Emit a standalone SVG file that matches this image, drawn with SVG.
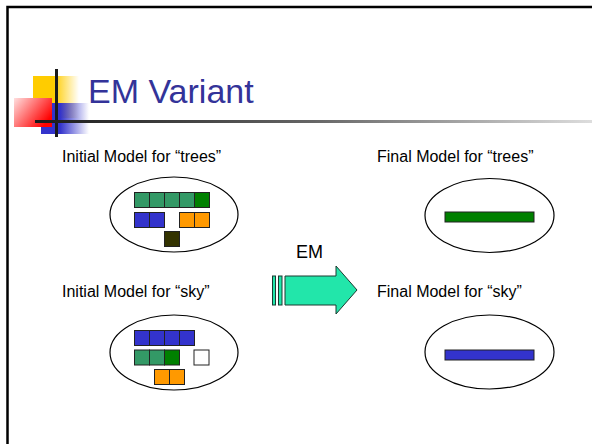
<svg xmlns="http://www.w3.org/2000/svg" width="592" height="444" viewBox="0 0 592 444">
  <defs>
    <linearGradient id="gYellow" x1="0" y1="0" x2="1" y2="0">
      <stop offset="0" stop-color="#FFCC00"/>
      <stop offset="0.45" stop-color="#FFCC00"/>
      <stop offset="1" stop-color="#FFCC00" stop-opacity="0"/>
    </linearGradient>
    <linearGradient id="gBlue" x1="0" y1="0" x2="1" y2="0">
      <stop offset="0" stop-color="#3333CC"/>
      <stop offset="0.4" stop-color="#3333CC"/>
      <stop offset="1" stop-color="#3333CC" stop-opacity="0"/>
    </linearGradient>
    <linearGradient id="gRed" x1="0" y1="0" x2="1" y2="0.6">
      <stop offset="0" stop-color="#FFE0E0"/>
      <stop offset="1" stop-color="#FF0000"/>
    </linearGradient>
    <linearGradient id="gRule" x1="0" y1="0" x2="1" y2="0">
      <stop offset="0" stop-color="#1a1a1a"/>
      <stop offset="0.5" stop-color="#666666"/>
      <stop offset="1" stop-color="#dddddd"/>
    </linearGradient>
    <style>
      .lbl { font-family: "Liberation Sans", Arial, sans-serif; font-size: 16px; fill: #000; }
      .oval { fill: #fff; stroke: #000; stroke-width: 1.2; }
      .c { stroke: #222; stroke-width: 1; }
      .sg { fill: #339966; }
      .dg { fill: #008000; }
      .bl { fill: #3333CC; }
      .or { fill: #FF9900; }
      .dk { fill: #333300; }
      .wh { fill: #fff; }
    </style>
  </defs>

  <rect width="592" height="444" fill="#fff"/>

  <!-- slide frame -->
  <path d="M7.5 444 V7 H592" fill="none" stroke="#000" stroke-width="2.5"/>

  <!-- title bullet ornament -->
  <g id="ornament">
    <rect x="33" y="76" width="46" height="42" fill="url(#gYellow)"/>
    <rect x="41" y="103" width="48" height="31" fill="url(#gBlue)"/>
    <rect x="14" y="98" width="38" height="29" fill="url(#gRed)"/>
    <rect x="55" y="69" width="3" height="68" fill="#1a1a1a"/>
    <rect x="35" y="120" width="557" height="3" fill="url(#gRule)"/>
  </g>

  <text id="title" x="88" y="103" font-family="'Liberation Sans', Arial, sans-serif" font-size="34" fill="#333399">EM Variant</text>

  <!-- initial model: trees -->
  <g id="init-trees">
    <text class="lbl" x="62" y="162">Initial Model for “trees”</text>
    <ellipse class="oval" cx="174" cy="214.5" rx="64" ry="37.5"/>
    <rect class="c sg" x="134.5" y="192.5" width="15" height="15"/>
    <rect class="c sg" x="149.5" y="192.5" width="15" height="15"/>
    <rect class="c sg" x="164.5" y="192.5" width="15" height="15"/>
    <rect class="c sg" x="179.5" y="192.5" width="15" height="15"/>
    <rect class="c dg" x="194.5" y="192.5" width="15" height="15"/>
    <rect class="c bl" x="134.5" y="212.5" width="15" height="15"/>
    <rect class="c bl" x="149.5" y="212.5" width="15" height="15"/>
    <rect class="c or" x="179.5" y="212.5" width="15" height="15"/>
    <rect class="c or" x="194.5" y="212.5" width="15" height="15"/>
    <rect class="c dk" x="164.5" y="231.5" width="15" height="15"/>
  </g>

  <!-- initial model: sky -->
  <g id="init-sky">
    <text class="lbl" x="62" y="297">Initial Model for “sky”</text>
    <ellipse class="oval" cx="174" cy="352.5" rx="64" ry="37.5"/>
    <rect class="c bl" x="134.5" y="330.5" width="15" height="15"/>
    <rect class="c bl" x="149.5" y="330.5" width="15" height="15"/>
    <rect class="c bl" x="164.5" y="330.5" width="15" height="15"/>
    <rect class="c bl" x="179.5" y="330.5" width="15" height="15"/>
    <rect class="c sg" x="134.5" y="350" width="15" height="15"/>
    <rect class="c sg" x="149.5" y="350" width="15" height="15"/>
    <rect class="c dg" x="164.5" y="350" width="15" height="15"/>
    <rect class="c wh" x="194" y="350" width="15" height="15"/>
    <rect class="c or" x="154.5" y="369.5" width="15" height="15"/>
    <rect class="c or" x="169.5" y="369.5" width="15" height="15"/>
  </g>

  <!-- final model: trees -->
  <g id="final-trees">
    <text class="lbl" x="377" y="162">Final Model for “trees”</text>
    <ellipse class="oval" cx="489.5" cy="215.5" rx="64.5" ry="37"/>
    <rect class="c dg" x="445" y="212" width="89" height="10"/>
  </g>

  <!-- final model: sky -->
  <g id="final-sky">
    <text class="lbl" x="377" y="297">Final Model for “sky”</text>
    <ellipse class="oval" cx="489.5" cy="352" rx="64.5" ry="37"/>
    <rect class="c bl" x="445" y="350" width="89" height="10"/>
  </g>

  <!-- EM step arrow -->
  <g id="connectors">
    <text x="296" y="258" font-family="'Liberation Sans', Arial, sans-serif" font-size="18" fill="#000">EM</text>
    <g fill="#22E6AA" stroke="#1a3a30" stroke-width="1">
      <rect x="272.5" y="276" width="3" height="29"/>
      <rect x="278.5" y="276" width="3.5" height="29"/>
      <path d="M285 276 H336 V266 L357 290 L336 314 V305 H285 Z"/>
    </g>
  </g>
</svg>
